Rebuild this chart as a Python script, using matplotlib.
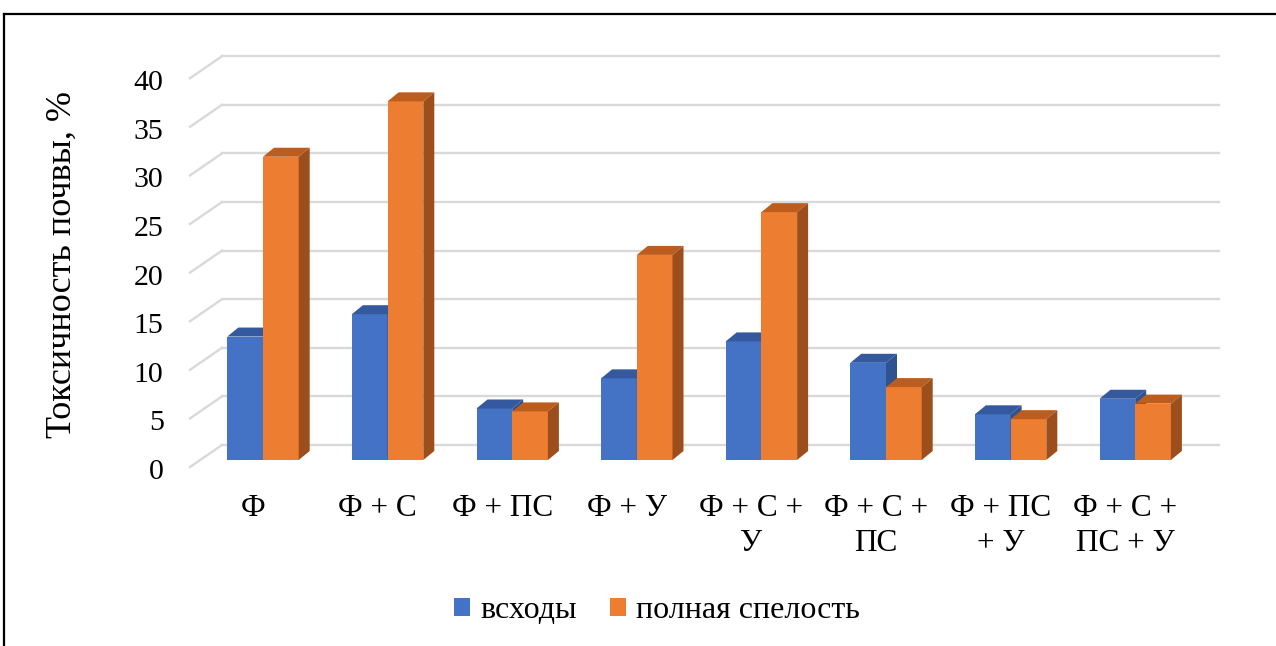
import matplotlib
matplotlib.use("Agg")
import matplotlib.pyplot as plt
from matplotlib.patches import Polygon, Rectangle, Patch
from matplotlib.lines import Line2D
from matplotlib.transforms import ScaledTranslation

# ---- data ----
categories = ["Ф", "Ф + С", "Ф + ПС", "Ф + У", "Ф + С +\nУ",
              "Ф + С +\nПС", "Ф + ПС\n+ У", "Ф + С +\nПС + У"]
shoots = [12.7, 15.0, 5.3, 8.4, 12.2, 10.0, 4.7, 6.3]          # всходы
full_ripeness = [31.2, 36.9, 5.0, 21.1, 25.5, 7.5, 4.2, 5.8]   # полная спелость
series_names = ["всходы", "полная спелость"]
y_ticks = [0, 5, 10, 15, 20, 25, 30, 35, 40]

# ---- styling ----
plt.rcParams["font.family"] = ["Liberation Serif", "DejaVu Serif"]
FS = 21.5
W, H, DPI = 1276, 646, 100
face = ["#4472C4", "#ED7D31"]
top = ["#34599E", "#BC5D1E"]
side = ["#2F5290", "#9C4F1D"]
grid_c = "#D9D9D9"

# pixel layout of the plot frame
X0_PX, STEP_PX = 263.0, 124.6     # first category centre, spacing
Y0_PX, UNIT_PX = 460.0, 9.72      # value 0 on bar front plane, px per unit
AX_L, AX_R, AX_T, AX_B = 190, 1250, 40, 480

fig = plt.figure(figsize=(W / DPI, H / DPI), dpi=DPI)
ax = fig.add_axes([AX_L / W, 1 - AX_B / H, (AX_R - AX_L) / W, (AX_B - AX_T) / H])
ax.set_xlim((AX_L - X0_PX) / STEP_PX, (AX_R - X0_PX) / STEP_PX)
ax.set_ylim((Y0_PX - AX_B) / UNIT_PX, (Y0_PX - AX_T) / UNIT_PX)
for s in ax.spines.values():
    s.set_visible(False)


def dx(px):
    return px / STEP_PX


def dy(px):
    return px / UNIT_PX


# back wall gridlines and side-wall diagonals
wall_x0 = dx(222 - X0_PX)
wall_x1 = dx(1219 - X0_PX)
floor_x = dx(190 - X0_PX)
for v in y_ticks:
    yb = v + dy(15)
    yf = v - dy(7)
    ax.add_line(Line2D([wall_x0, wall_x1], [yb, yb], color=grid_c, lw=1.7,
                       zorder=1, clip_on=False))
    ax.add_line(Line2D([floor_x, wall_x0], [yf, yb], color=grid_c, lw=1.7,
                       zorder=1, clip_on=False))

# 3-D looking bars
bw = dx(35.7)
ddx, ddy = dx(11), dy(9)
for i in range(len(categories)):
    for s, vals in enumerate([shoots, full_ripeness]):
        v = vals[i]
        x0 = i - bw + s * bw
        z = 3 + i * 0.1 + s * 0.01
        ax.add_patch(Rectangle((x0, 0), bw, v, facecolor=face[s],
                               edgecolor="none", zorder=z, clip_on=False))
        ax.add_patch(Polygon([(x0, v), (x0 + ddx, v + ddy),
                              (x0 + bw + ddx, v + ddy), (x0 + bw, v)],
                             closed=True, facecolor=top[s], edgecolor="none",
                             zorder=z, clip_on=False))
        ax.add_patch(Polygon([(x0 + bw, 0), (x0 + bw + ddx, ddy),
                              (x0 + bw + ddx, v + ddy), (x0 + bw, v)],
                             closed=True, facecolor=side[s], edgecolor="none",
                             zorder=z, clip_on=False))

# axis ticks and labels
ax.set_yticks(y_ticks)
ax.set_yticklabels([str(t) for t in y_ticks], fontsize=FS)
ax.tick_params(axis="y", length=0, pad=19)
for lab in ax.get_yticklabels():
    lab.set_transform(lab.get_transform() + ScaledTranslation(0, -9 / DPI, fig.dpi_scale_trans))

ax.set_xticks(range(len(categories)))
ax.set_xticklabels(categories, fontsize=22.5, linespacing=1.3)
ax.tick_params(axis="x", length=0, pad=10)
for lab in ax.get_xticklabels():
    lab.set_transform(lab.get_transform() + ScaledTranslation(-10 / DPI, 0, fig.dpi_scale_trans))

fig.text(62 / W, 1 - 264 / H, "Токсичность почвы, %", rotation=90,
         ha="center", va="center", fontsize=26)

handles = [Patch(facecolor=face[0], edgecolor="none"),
           Patch(facecolor=face[1], edgecolor="none")]
fig.legend(handles, series_names, loc="center", bbox_to_anchor=(657 / W, 1 - 611 / H),
           ncol=2, frameon=False, fontsize=23, handlelength=0.5, handleheight=0.5,
           handletextpad=0.3, columnspacing=1.05, borderpad=0, borderaxespad=0)

# outer frame (top and left edges)
fig.add_artist(Line2D([4 / W, 1.0], [1 - 14 / H, 1 - 14 / H], color="black", lw=1.6,
                      transform=fig.transFigure))
fig.add_artist(Line2D([4 / W, 4 / W], [0.0, 1 - 14 / H], color="black", lw=1.6,
                      transform=fig.transFigure))

fig.savefig("out.png", dpi=DPI)
